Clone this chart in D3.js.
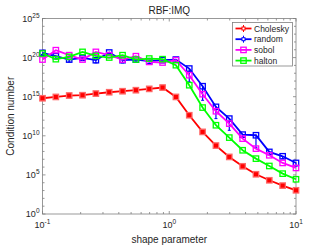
<!DOCTYPE html>
<html>
<head>
<meta charset="utf-8">
<script src="https://cdn.jsdelivr.net/npm/d3@7"></script>
<style>
body{margin:0;background:#fff;}
text{font-family:"Liberation Sans",Arial,sans-serif;fill:#262626;}
</style>
</head>
<body>
<div id="chart"></div>
<script>
// shape parameter values: 20 log spaced points 0.1..10
var shapeParam = d3.range(20).map(function(i){ return Math.pow(10, -1 + 2*i/19); });
// log10 of condition number
var cholesky = [14.8,14.97,15.15,15.19,15.4,15.57,15.7,15.83,16.0,16.17,14.97,12.63,10.5,8.75,7.3,6.1,5.08,4.31,3.63,3.03];
var random   = [20.6,20.18,19.75,19.97,19.67,20.65,19.67,19.75,19.54,19.67,19.75,18.6,16.34,13.7,12.2,10.15,10.07,7.94,7.38,6.53];
var sobol    = [19.75,20.95,20.31,19.75,20.73,20.31,19.75,20.18,19.45,19.37,19.67,17.75,15.32,13.14,11.56,9.64,8.36,7.51,6.53,5.89];
var halton   = [20.52,19.8,20.1,20.73,20.22,20.01,20.31,19.75,19.88,19.8,19.03,16.47,13.61,11.35,9.77,8.15,7.08,6.14,5.16,4.44];
// lower error (decades) for errorbar series
var cholErr  = [0.1,0.1,0.1,0.1,0.1,0.1,0.1,0.1,0.1,0.1,0.1,0.15,0.1,0.1,0.1,0.1,0.1,0.1,0.1,0.1];
var randErr  = [0.2,0.3,0.3,0.2,0.35,0.4,0.35,0.2,0.3,0.2,0.2,1.7,1.8,1.5,1.5,0.3,1.6,0.3,0.3,0.4];
var yTicks = [0,5,10,15,20,25];
var series = [
  {name:"Cholesky", vals:cholesky, err:cholErr, color:"#ff0000", fill:"#ff0000"},
  {name:"random",   vals:random,   err:randErr, color:"#0000ff", fill:"none"},
  {name:"sobol",    vals:sobol,    err:null,    color:"#ff00ff", fill:"none"},
  {name:"halton",   vals:halton,   err:null,    color:"#00ff00", fill:"none"}
];

var W = 327, H = 245;
var m = {l:42.5, r:31, t:18.5, b:31};
var svg = d3.select("#chart").append("svg").attr("width",W).attr("height",H);
var x = d3.scaleLog().domain([0.1,10]).range([m.l, W-m.r]);
var y = d3.scaleLinear().domain([0,25]).range([H-m.b, m.t]);
var axisCol = "#7f7f7f";

// box
svg.append("rect").attr("x",m.l).attr("y",m.t).attr("width",W-m.r-m.l).attr("height",H-m.b-m.t)
  .attr("fill","none").attr("stroke",axisCol).attr("stroke-width",0.8);

// x ticks (major + minor), bottom and top
var xt = [];
[0.1,1].forEach(function(d){ for(var k=1;k<10;k++) xt.push(d*k); });
xt.push(10);
xt.forEach(function(v){
  var major = [0.1,1,10].indexOf(v) >= 0;
  var len = major ? 3 : 2;
  svg.append("line").attr("x1",x(v)).attr("x2",x(v)).attr("y1",H-m.b).attr("y2",H-m.b-len).attr("stroke",axisCol).attr("stroke-width",0.8);
  svg.append("line").attr("x1",x(v)).attr("x2",x(v)).attr("y1",m.t).attr("y2",m.t+len).attr("stroke",axisCol).attr("stroke-width",0.8);
});
[-1,0,1].forEach(function(e){
  var t = svg.append("text").attr("x",x(Math.pow(10,e))).attr("y",H-m.b+14).attr("text-anchor","middle").attr("font-size",9);
  t.append("tspan").text("10");
  t.append("tspan").attr("dy",-4).attr("font-size",6.5).text(e);
});

// y ticks every decade, labels every 5
d3.range(0,26).forEach(function(v){
  var len = v%5===0 ? 3 : 2;
  svg.append("line").attr("x1",m.l).attr("x2",m.l+len).attr("y1",y(v)).attr("y2",y(v)).attr("stroke",axisCol).attr("stroke-width",0.8);
  svg.append("line").attr("x1",W-m.r).attr("x2",W-m.r-len).attr("y1",y(v)).attr("y2",y(v)).attr("stroke",axisCol).attr("stroke-width",0.8);
});
yTicks.forEach(function(v){
  var t = svg.append("text").attr("x",m.l-3).attr("y",y(v)+3).attr("text-anchor","end").attr("font-size",9);
  t.append("tspan").text("10");
  t.append("tspan").attr("dy",-4).attr("font-size",6.5).text(v);
});

// lines, error bars, markers
var line = d3.line().x(function(d,i){ return x(shapeParam[i]); }).y(function(d){ return y(d); });
series.forEach(function(s){
  var g = svg.append("g");
  g.append("path").attr("d",line(s.vals)).attr("fill","none").attr("stroke",s.color).attr("stroke-width",1.8);
  if (s.err) {
    s.vals.forEach(function(v,i){
      var cx = x(shapeParam[i]);
      g.append("line").attr("x1",cx).attr("x2",cx).attr("y1",y(v+0.05)).attr("y2",y(v-s.err[i])).attr("stroke",s.color).attr("stroke-width",1.2);
      g.append("line").attr("x1",cx-1.5).attr("x2",cx+1.5).attr("y1",y(v-s.err[i])).attr("y2",y(v-s.err[i])).attr("stroke",s.color).attr("stroke-width",1);
    });
  }
  s.vals.forEach(function(v,i){
    g.append("rect").attr("x",x(shapeParam[i])-2.7).attr("y",y(v)-2.7).attr("width",5.4).attr("height",5.4)
      .attr("fill",s.fill==="none"?"none":s.fill).attr("stroke",s.fill==="none"?s.color:"#ff6666").attr("stroke-width",1.3);
  });
});

// legend
var lx = 232.5, ly = 22.5;
svg.append("rect").attr("x",lx).attr("y",ly).attr("width",60).attr("height",43.5).attr("fill","#fff").attr("stroke",axisCol).attr("stroke-width",0.8);
series.forEach(function(s,i){
  var yy = ly + 6 + i*10.7;
  svg.append("line").attr("x1",lx+3).attr("x2",lx+19).attr("y1",yy).attr("y2",yy).attr("stroke",s.color).attr("stroke-width",1.8);
  if (i<2) {
    svg.append("line").attr("x1",lx+11).attr("x2",lx+11).attr("y1",yy-3.5).attr("y2",yy+3.5).attr("stroke",s.color).attr("stroke-width",1);
    svg.append("rect").attr("x",lx+9.5).attr("y",yy-1.5).attr("width",3).attr("height",3).attr("fill","#fff").attr("stroke",s.color).attr("stroke-width",1);
  } else {
    svg.append("rect").attr("x",lx+8.3).attr("y",yy-2.7).attr("width",5.4).attr("height",5.4).attr("fill","none").attr("stroke",s.color).attr("stroke-width",1.3);
  }
  svg.append("text").attr("x",lx+21.5).attr("y",yy+3).attr("font-size",8.5).text(s.name);
});

// title and axis labels
svg.append("text").attr("x",(m.l+W-m.r)/2).attr("y",14).attr("text-anchor","middle").attr("font-size",10).text("RBF:IMQ");
svg.append("text").attr("x",(m.l+W-m.r)/2).attr("y",H-2).attr("text-anchor","middle").attr("font-size",10).text("shape parameter");
svg.append("text").attr("transform","translate(14,"+((m.t+H-m.b)/2)+") rotate(-90)").attr("text-anchor","middle").attr("font-size",10).text("Condition number");
</script>
</body>
</html>
